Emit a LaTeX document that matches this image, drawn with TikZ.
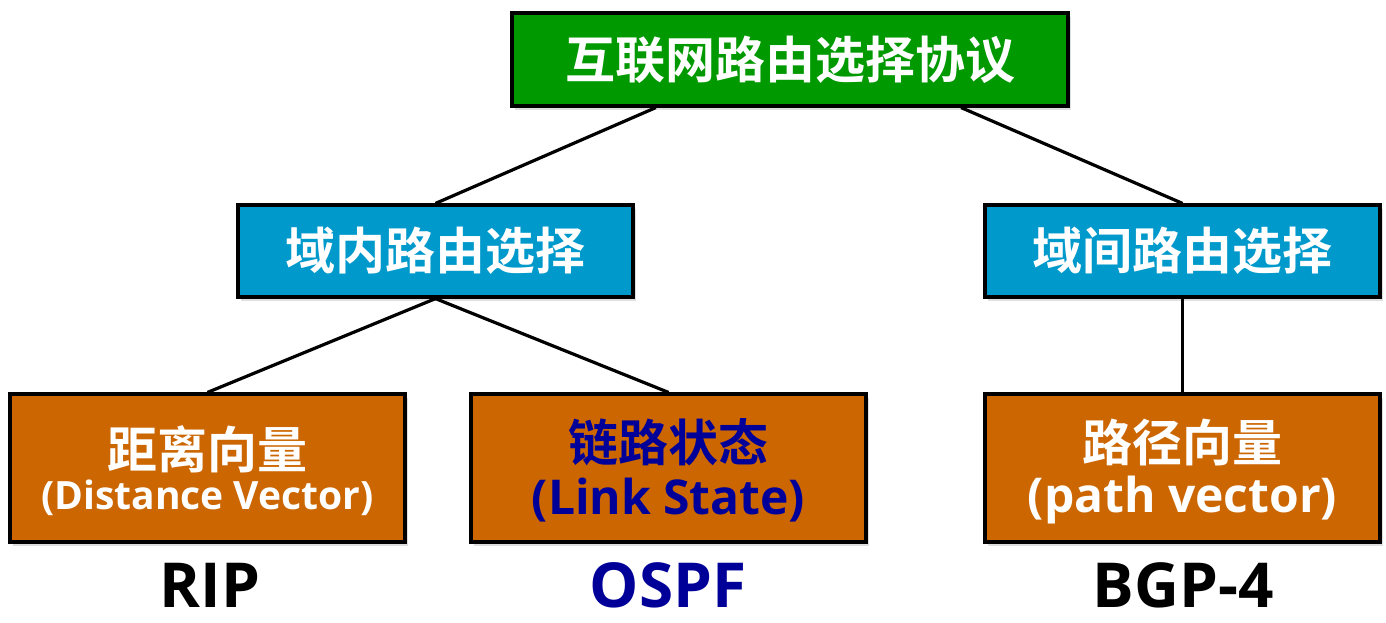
\documentclass[tikz,border=0pt]{standalone}
\usepackage{fontspec}
\newfontfamily\cjk{Noto Sans CJK SC}[BoldFont={* Bold}]
\newfontfamily\lat{Open Sans}
\usetikzlibrary{shadows,calc}
\definecolor{topgreen}{RGB}{0,153,0}
\definecolor{midblue}{RGB}{0,153,204}
\definecolor{boxorange}{RGB}{204,102,0}
\definecolor{navy}{RGB}{0,0,153}
\begin{document}
\begin{tikzpicture}[x=0.5pt,y=-0.5pt,
  boxbase/.style={draw=black,line width=1.6pt,rectangle,inner sep=0pt,align=center,
    drop shadow={shadow xshift=1.5pt,shadow yshift=-2pt,opacity=0.25}},
  topbox/.style={boxbase,fill=topgreen,minimum width=278pt,minimum height=46.5pt},
  midbox/.style={boxbase,fill=midblue,minimum width=197.5pt,minimum height=46pt},
  lowbox/.style={boxbase,fill=boxorange,minimum width=197.5pt,minimum height=74pt},
  zh/.style={font=\cjk\bfseries\fontsize{25}{30}\selectfont},
  proto/.style={font=\lat\bfseries\fontsize{31}{36}\selectfont},
  link/.style={line width=1.6pt,draw=black}]
\useasboundingbox (0,0) rectangle (1386,622);
\node[topbox,text=white,zh] (top) at (790,59.5) {互联网路由选择协议};
\node[midbox,text=white,zh] (intra) at (435.5,251) {域内路由选择};
\node[midbox,text=white,zh] (inter) at (1182.5,251) {域间路由选择};
\node[lowbox] (dv) at (207.5,468) {};
\node[lowbox] (ls) at (668.5,468) {};
\node[lowbox] (pv) at (1182.5,468) {};
\node[text=white,zh,inner sep=0pt] (dvzh) at (207.5,449) {距离向量};
\node[text=white,font=\lat\bfseries\fontsize{19.5}{22}\selectfont,inner sep=0pt] (dven) at (207.5,498) {(Distance Vector)};
\node[text=navy,zh,inner sep=0pt] (lszh) at (668.5,442) {链路状态};
\node[text=navy,font=\lat\bfseries\fontsize{24}{28}\selectfont,inner sep=0pt] (lsen) at (668.5,500) {(Link State)};
\node[text=white,zh,inner sep=0pt] (pvzh) at (1182.5,442) {路径向量};
\node[text=white,font=\lat\bfseries\fontsize{24}{28}\selectfont,inner sep=0pt] (pven) at (1182.5,500) {(path vector)};
\node[proto,text=black] (rip) at (210,585) {RIP};
\node[proto,text=navy] (ospf) at (668,585) {OSPF};
\node[proto,text=black] (bgp) at (1183,585) {BGP-4};
\draw[link] ($(top.south west)!0.26!(top.south east)$) -- (intra.north);
\draw[link] ($(top.south west)!0.806!(top.south east)$) -- (inter.north);
\draw[link] (intra.south) -- (dv.north);
\draw[link] (intra.south) -- (ls.north);
\draw[link] (inter.south) -- (pv.north);
\end{tikzpicture}
\end{document}
